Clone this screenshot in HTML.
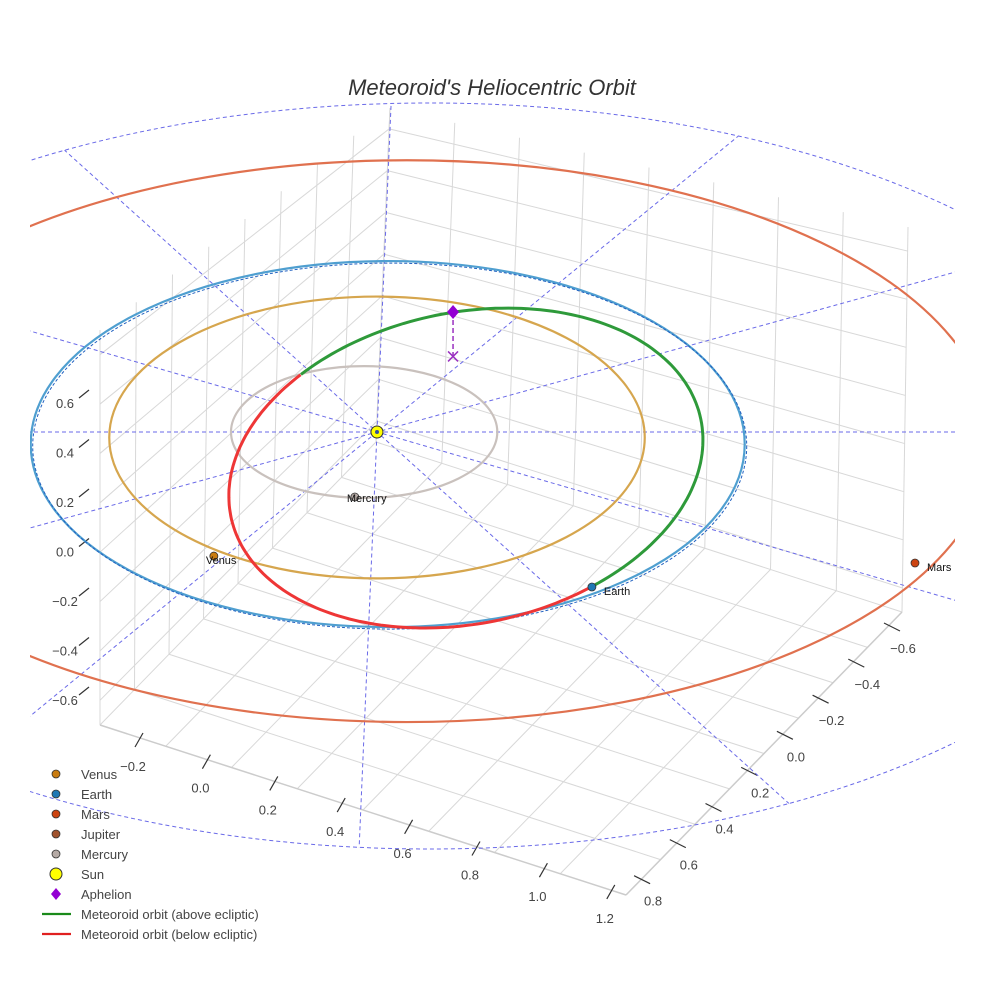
<!DOCTYPE html>
<html><head><meta charset="utf-8"><style>
html,body{margin:0;padding:0;background:#fff;overflow:hidden;}
svg{display:block;font-family:"Liberation Sans",sans-serif;}
</style></head><body>
<svg id="chart" width="984" height="984" viewBox="0 0 984 984" xmlns="http://www.w3.org/2000/svg">
<defs>
<clipPath id="plotClip"><rect x="30" y="0" width="925" height="984"/></clipPath>
<clipPath id="outerClip"><ellipse cx="430" cy="476" rx="750" ry="373"/></clipPath>
</defs>
<text x="492" y="95" text-anchor="middle" font-size="22" font-style="italic" fill="#333">Meteoroid's Heliocentric Orbit</text>
<g id="grid"></g>
<g id="guides" clip-path="url(#plotClip)"></g>
<g id="orbits" clip-path="url(#plotClip)"></g>
<g id="marks"></g>
<g id="legend"></g>
</svg>
<script>
// ---- data (AU) ----
const planetNames = ["Mercury","Venus","Earth","Mars"];
const orbitRx = [0.373, 0.75, 1.0, 1.64];
const orbitRy = [0.36, 0.77, 1.0, 1.535];
const orbitCx = [-0.036, 0.0, 0.03, 0.084];
const orbitCy = [0.0, 0.03, 0.066, 0.05];
const orbitColors = ["#c9c1bd","#d6a64e","#4f9fd0","#e0714f"];
const planetX = [-0.062, -0.457, 0.602, 1.507];
const planetY = [0.355, 0.678, 0.847, 0.716];
const planetColors = ["#b5aaa5","#c97c10","#1f77b4","#cc4411"];
const meteorCenter = [0.249, 0.197];
const meteorRadii = [0.664, 0.874];
const meteorPhase = -0.176;
const aboveRange = [-2.34, 1.01];
const belowRange = [1.01, 3.94];
const aphelionPos = [0.213, -0.656, 0.18];
const guideDirs = [[-0.885,-1.557],[0.039,-1.77],[0.964,-1.54],[1.64,-0.885],[1.62,0.92],[1,0]];
const xTicks = ["−0.2","0.0","0.2","0.4","0.6","0.8","1.0","1.2"];
const yTicks = ["−0.6","−0.4","−0.2","0.0","0.2","0.4","0.6","0.8"];
const zTicks = ["0.6","0.4","0.2","0.0","−0.2","−0.4","−0.6"];
const legendLabels = ["Venus","Earth","Mars","Jupiter","Mercury","Sun","Aphelion","Meteoroid orbit (above ecliptic)","Meteoroid orbit (below ecliptic)"];

const NS="http://www.w3.org/2000/svg";
const SUN=[377,432], SX=357, SY=183, SZ=247;
const px=x=>SUN[0]+SX*x, py=y=>SUN[1]+SY*y;
function mk(tag,attrs,parent){const e=document.createElementNS(NS,tag);for(const k in attrs)e.setAttribute(k,attrs[k]);parent.appendChild(e);return e;}
function line(p,a,b,st){return mk('line',Object.assign({x1:a[0],y1:a[1],x2:b[0],y2:b[1]},st),p);}
const lerp=(a,b,t)=>[a[0]+(b[0]-a[0])*t,a[1]+(b[1]-a[1])*t];

// ---- grid box ----
const grid=document.getElementById('grid');
const FL=[100,725],FR=[626,895],RB=[902,612],BK=[376,442];
const FLt=[100,330],BKt=[390,108],RBt=[908,227];
const gs={stroke:"#d8d8d8","stroke-width":1};
for(let i=0;i<=8;i++){
  const t=i/8;
  let l=line(grid,lerp(FL,FR,t),lerp(BK,RB,t),gs);
  
  l=line(grid,lerp(FR,RB,t),lerp(FL,BK,t),gs);
  
  l=line(grid,lerp(BK,RB,t),lerp(BKt,RBt,t),gs);
  
  l=line(grid,lerp(FL,BK,t),lerp(FLt,BKt,t),gs);
  
}
for(let i=0;i<=7;i++){
  const t=(i+0.5)/8;
  let l=line(grid,lerp(FL,FLt,t),lerp(BK,BKt,t),gs);
  
  l=line(grid,lerp(BK,BKt,t),lerp(RB,RBt,t),gs);
  
}
line(grid,FL,FR,{stroke:"#ccc","stroke-width":1.5});
line(grid,FR,RB,{stroke:"#ccc","stroke-width":1.5});
const tk={stroke:"#333","stroke-width":1.2};
xTicks.forEach((s,i)=>{
  const x=139+67.4*i,y=740+21.7*i;
  line(grid,[x-4,y+7],[x+4,y-7],tk);
  const t=mk('text',{x:x-6,y:y+31,"text-anchor":"middle","font-size":13,fill:"#444"},grid);t.textContent=s;
  
});
yTicks.forEach((s,i)=>{
  const x=892-35.7*i,y=627+36.1*i;
  line(grid,[x-8,y-4],[x+8,y+4],tk);
  const t=mk('text',{x:x+11,y:y+26,"text-anchor":"middle","font-size":13,fill:"#444"},grid);t.textContent=s;
  
});
zTicks.forEach((s,i)=>{
  const y=398+49.5*i;
  line(grid,[79,y],[89,y-8],tk);
  const t=mk('text',{x:65,y:y+10,"text-anchor":"middle","font-size":13,fill:"#444"},grid);t.textContent=s;
  
});

// ---- guides ----
const guides=document.getElementById('guides');
const gc=mk('g',{"clip-path":"url(#outerClip)"},guides);
guideDirs.forEach(d=>{
  const l=line(gc,[px(-d[0]*3),py(-d[1]*3)],[px(d[0]*3),py(d[1]*3)],{stroke:"#6a6ae8","stroke-width":1,"stroke-dasharray":"4,3"});
  
});
const oe=mk('ellipse',{cx:430,cy:476,rx:750,ry:373,fill:"none",stroke:"#6a6ae8","stroke-width":1,"stroke-dasharray":"4,3"},guides);


// ---- orbits ----
const orbits=document.getElementById('orbits');
planetNames.forEach((n,i)=>{
  const e=mk('ellipse',{cx:px(orbitCx[i]),cy:py(orbitCy[i]),rx:SX*orbitRx[i],ry:SY*orbitRy[i],fill:"none",stroke:orbitColors[i],"stroke-width":2.2},orbits);
  
});
const ed=mk('ellipse',{cx:px(orbitCx[2])+2,cy:py(orbitCy[2])+2,rx:SX*orbitRx[2],ry:SY*orbitRy[2],fill:"none",stroke:"#2060c0","stroke-width":1,"stroke-dasharray":"3,2"},orbits);

function meteorPath(r){
  let d="";for(let k=0;k<=120;k++){const t=r[0]+(r[1]-r[0])*k/120;
    const x=px(meteorCenter[0]+meteorRadii[0]*Math.cos(t)), y=py(meteorCenter[1]+meteorRadii[1]*Math.sin(t+meteorPhase));
    d+=(k?"L":"M")+x.toFixed(1)+","+y.toFixed(1);}
  return d;
}
let mp=mk('path',{d:meteorPath(aboveRange),fill:"none",stroke:"#2e9a3a","stroke-width":3},orbits);

mp=mk('path',{d:meteorPath(belowRange),fill:"none",stroke:"#ee3636","stroke-width":3},orbits);


// ---- markers ----
const marks=document.getElementById('marks');
planetNames.forEach((n,i)=>{
  const c=mk('circle',{cx:px(planetX[i]),cy:py(planetY[i]),r:4,fill:planetColors[i],stroke:"#333","stroke-width":0.8},marks);
  
  const t=mk('text',{x:px(planetX[i])+(n==="Mercury"||n==="Venus"?-8:12),y:py(planetY[i])+(n==="Mercury"?5:8),"font-size":11,fill:"#111"},marks);
  t.textContent=n;
});
const sun=mk('circle',{cx:SUN[0],cy:SUN[1],r:6,fill:"#ffff00",stroke:"#333","stroke-width":1},marks);

mk('circle',{cx:SUN[0],cy:SUN[1],r:2,fill:"#3050a0"},marks);
const ax=px(aphelionPos[0]),ay=py(aphelionPos[1]),ay0=ay+SZ*aphelionPos[2];
let al=line(marks,[ax,ay],[ax,ay0],{stroke:"#9a30c0","stroke-width":1.5,"stroke-dasharray":"5,3"});

const ap=mk('path',{d:`M${ax},${ay-7}L${ax+6},${ay}L${ax},${ay+7}L${ax-6},${ay}Z`,fill:"#9400d3"},marks);

const xm=mk('path',{d:`M${ax-5},${ay0-5}L${ax+5},${ay0+5}M${ax+5},${ay0-5}L${ax-5},${ay0+5}`,stroke:"#9a30c0","stroke-width":1.5},marks);


// ---- legend ----
const lg=document.getElementById('legend');
const legendColors=["#c97c10","#1f77b4","#cc4411","#a0522d","#b5aaa5","#ffff00","#9400d3","#1a8a1a","#e02020"];
legendLabels.forEach((s,i)=>{
  const y=774+20*i;
  const g=mk('g',{},lg);
  
  if(i<5) mk('circle',{cx:56,cy:y,r:4,fill:legendColors[i],stroke:"#333","stroke-width":0.8},g);
  else if(i===5) mk('circle',{cx:56,cy:y,r:6,fill:legendColors[i],stroke:"#333","stroke-width":1},g);
  else if(i===6) mk('path',{d:`M56,${y-6}L61,${y}L56,${y+6}L51,${y}Z`,fill:legendColors[i]},g);
  else line(g,[42,y],[71,y],{stroke:legendColors[i],"stroke-width":2.2});
  const t=mk('text',{x:81,y:y+5,"font-size":13,fill:"#444"},g);t.textContent=s;
});
</script>
</body></html>
